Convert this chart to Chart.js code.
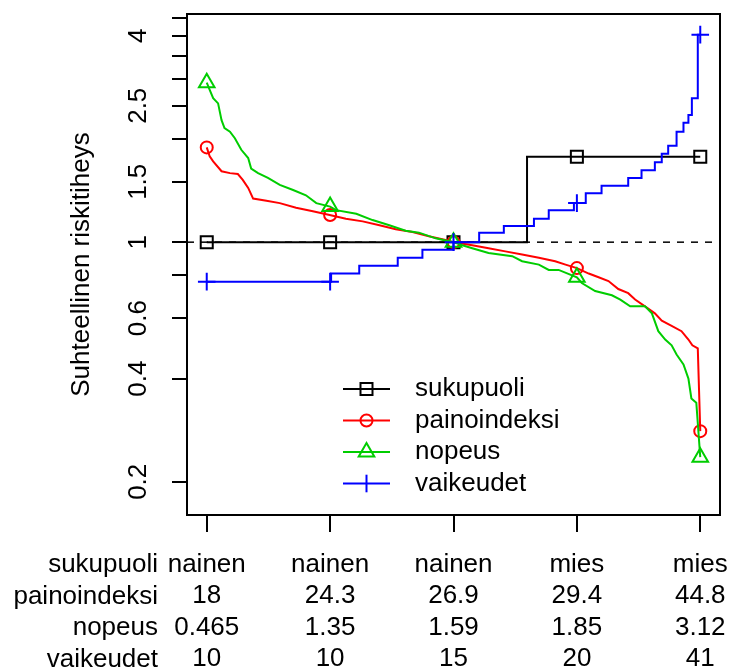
<!DOCTYPE html>
<html>
<head>
<meta charset="utf-8">
<script src="https://cdn.jsdelivr.net/npm/chart.js@4.4.0/dist/chart.umd.min.js"></script>
<style>
  html, body { margin: 0; padding: 0; background: #fff; }
</style>
</head>
<body>
<canvas id="hazardChart" width="731" height="670"></canvas>
<script>
// quantile positions where markers and table columns sit
const markerX = [0, 0.25, 0.5, 0.75, 1];

const rowNames = ['sukupuoli', 'painoindeksi', 'nopeus', 'vaikeudet'];
const sukupuoliLabels = ['nainen', 'nainen', 'nainen', 'mies', 'mies'];
const painoindeksiLabels = ['18', '24.3', '26.9', '29.4', '44.8'];
const nopeusLabels = ['0.465', '1.35', '1.59', '1.85', '3.12'];
const vaikeudetLabels = ['10', '10', '15', '20', '41'];

const yTicks = [0.2, 0.4, 0.6, 0.8, 1, 1.5, 2, 2.5, 3, 3.5, 4, 4.5];
const yTickLabels = [0.2, 0.4, 0.6, 1, 1.5, 2.5, 4];

// curves
const sukupuoliX = [0, 0.649, 1];
const sukupuoliY = [1, 1.776, 1.776];

const painoindeksiX = [0, 0.006, 0.013, 0.030, 0.047, 0.063, 0.073, 0.084, 0.094, 0.121, 0.148, 0.181, 0.215, 0.249, 0.282, 0.316, 0.350, 0.383, 0.417, 0.450, 0.484, 0.5,
  0.538, 0.571, 0.605, 0.639, 0.673, 0.706, 0.727, 0.750, 0.774, 0.794, 0.814, 0.834, 0.854, 0.868, 0.888, 0.908, 0.922, 0.942, 0.962, 0.976, 0.984, 0.995, 1];
const painoindeksiY = [1.89, 1.78, 1.72, 1.61, 1.59, 1.58, 1.52, 1.44, 1.34, 1.32, 1.30, 1.26, 1.23, 1.20, 1.17, 1.15, 1.12, 1.09, 1.07, 1.04, 1.015, 1.0,
  0.98, 0.96, 0.94, 0.92, 0.90, 0.88, 0.86, 0.84, 0.81, 0.79, 0.77, 0.73, 0.71, 0.68, 0.65, 0.62, 0.59, 0.57, 0.55, 0.52, 0.50, 0.49, 0.281];

const nopeusX = [0, 0.006, 0.013, 0.023, 0.030, 0.036, 0.047, 0.057, 0.070, 0.084, 0.090, 0.104, 0.124, 0.148, 0.175, 0.201, 0.222, 0.25, 0.262, 0.303, 0.336, 0.370, 0.403, 0.430, 0.464, 0.5,
  0.518, 0.538, 0.571, 0.619, 0.639, 0.673, 0.693, 0.713, 0.75, 0.760, 0.787, 0.821, 0.838, 0.858, 0.888, 0.902, 0.915, 0.929, 0.942, 0.952, 0.966, 0.976, 0.982, 0.992, 1];
const nopeusY = [2.92, 2.78, 2.63, 2.54, 2.27, 2.15, 2.10, 2.01, 1.86, 1.76, 1.64, 1.59, 1.54, 1.47, 1.42, 1.37, 1.30, 1.27, 1.24, 1.21, 1.16, 1.12, 1.08, 1.066, 1.026, 1.0,
  0.98, 0.96, 0.93, 0.91, 0.88, 0.86, 0.83, 0.83, 0.79, 0.76, 0.72, 0.70, 0.68, 0.65, 0.65, 0.62, 0.55, 0.52, 0.50, 0.47, 0.44, 0.40, 0.35, 0.34, 0.236];

const vaikeudetX = [0, 0.252, 0.309, 0.387, 0.437, 0.5, 0.552, 0.602, 0.663, 0.693, 0.744, 0.768, 0.800, 0.854, 0.881, 0.908, 0.922, 0.935, 0.952, 0.966, 0.976, 0.983, 0.995, 1];
const vaikeudetY = [0.767, 0.81, 0.854, 0.90, 0.95, 1.0, 1.066, 1.115, 1.17, 1.24, 1.30, 1.39, 1.46, 1.54, 1.62, 1.71, 1.81, 1.91, 2.10, 2.23, 2.35, 2.63, 4.03, 4.03];

// marker values at the quantile positions
const sukupuoliMarks = [1, 1, 1, 1.776, 1.776];
const painoindeksiMarks = [1.89, 1.20, 1, 0.84, 0.281];
const nopeusMarks = [2.92, 1.27, 1, 0.79, 0.236];
const vaikeudetMarks = [0.767, 0.767, 1, 1.30, 4.03];

const refX = [-0.04, 1.04];
const refY = [1, 1];

const colors = ['#000000', '#FF0000', '#00CD00', '#0000FF'];
const styles = ['rect', 'circle', 'triangle', 'cross'];
const radii = [8.5, 6, 9, 8.8];

const fontFamily = '"Liberation Sans", Arial, Helvetica, sans-serif';
Chart.defaults.font.family = fontFamily;
Chart.defaults.font.size = 26;
Chart.defaults.color = '#000';

function zip(xs, ys) {
  return xs.map((x, i) => ({x: x, y: ys[i]}));
}

function lineSet(xs, ys, color, order, stepped) {
  return {data: zip(xs, ys), showLine: true, borderColor: color, borderWidth: 2,
    pointRadius: 0, fill: false, stepped: stepped, order: order};
}

function markSet(ys, i, order) {
  return {data: zip(markerX, ys), showLine: false, pointStyle: styles[i], pointRadius: radii[i],
    pointBorderColor: colors[i], pointBackgroundColor: 'rgba(0,0,0,0)', pointBorderWidth: 2,
    order: order};
}

// box, row names of the table and the legend
const extras = {
  id: 'extras',
  afterDraw(chart) {
    const ctx = chart.ctx;
    const a = chart.chartArea;
    ctx.save();
    ctx.strokeStyle = '#000';
    ctx.lineWidth = 2;
    ctx.strokeRect(a.left, a.top, a.right - a.left, a.bottom - a.top);

    ctx.font = '26px ' + fontFamily;
    ctx.fillStyle = '#000';
    ctx.textAlign = 'right';
    ctx.textBaseline = 'middle';
    rowNames.forEach((name, i) => {
      ctx.fillText(name, 158, a.bottom + 50 + i * 31.5);
    });

    // legend
    ctx.textAlign = 'left';
    rowNames.forEach((name, i) => {
      const y = 389 + i * 31.5;
      ctx.strokeStyle = colors[i];
      ctx.lineWidth = 2;
      ctx.beginPath();
      ctx.moveTo(343, y);
      ctx.lineTo(390, y);
      ctx.stroke();
      const cx = 366.5;
      ctx.beginPath();
      if (i === 0) {
        ctx.rect(cx - 6, y - 6, 12, 12);
      } else if (i === 1) {
        ctx.arc(cx, y, 6, 0, Math.PI * 2);
      } else if (i === 2) {
        const r = 9;
        ctx.moveTo(cx, y - r);
        ctx.lineTo(cx + r * 0.866, y + r / 2);
        ctx.lineTo(cx - r * 0.866, y + r / 2);
        ctx.closePath();
      } else {
        ctx.moveTo(cx, y - 8.8);
        ctx.lineTo(cx, y + 8.8);
      }
      ctx.stroke();
      ctx.fillStyle = '#000';
      ctx.fillText(name, 415, y);
    });
    ctx.restore();
  }
};

new Chart(document.getElementById('hazardChart'), {
  type: 'scatter',
  data: {
    datasets: [
      {data: zip(refX, refY), showLine: true, borderColor: '#000', borderWidth: 1.5, borderDash: [7, 7], pointRadius: 0, order: 10},
      lineSet(sukupuoliX, sukupuoliY, colors[0], 9, true),
      markSet(sukupuoliMarks, 0, 8),
      lineSet(painoindeksiX, painoindeksiY, colors[1], 7, false),
      markSet(painoindeksiMarks, 1, 6),
      lineSet(nopeusX, nopeusY, colors[2], 5, false),
      markSet(nopeusMarks, 2, 4),
      lineSet(vaikeudetX, vaikeudetY, colors[3], 3, true),
      markSet(vaikeudetMarks, 3, 2)
    ]
  },
  options: {
    responsive: false,
    animation: false,
    devicePixelRatio: 1,
    layout: {padding: {top: 14, right: 11, left: 0, bottom: 0}},
    plugins: {legend: {display: false}, tooltip: {enabled: false}},
    scales: {
      x: {
        type: 'linear',
        min: -0.04,
        max: 1.04,
        afterBuildTicks: (scale) => { scale.ticks = markerX.map(v => ({value: v})); },
        afterFit: (scale) => {
          scale.height = 155;
          scale.paddingLeft = 0;
          scale.paddingRight = 0;
        },
        border: {display: false},
        grid: {display: true, drawOnChartArea: false, drawTicks: true, tickLength: 17, color: '#000', lineWidth: 2},
        ticks: {
          autoSkip: false,
          maxRotation: 0,
          padding: 17,
          font: {size: 26, lineHeight: 1.21},
          callback: (value, index) => [sukupuoliLabels[index], painoindeksiLabels[index], nopeusLabels[index], vaikeudetLabels[index]]
        }
      },
      y: {
        type: 'logarithmic',
        min: 0.16,
        max: 4.63,
        afterBuildTicks: (scale) => { scale.ticks = yTicks.map(v => ({value: v})); },
        afterFit: (scale) => {
          scale.width = 187;
          scale.paddingTop = 0;
          scale.paddingBottom = 0;
        },
        border: {display: false},
        grid: {display: true, drawOnChartArea: false, drawTicks: true, tickLength: 15, color: '#000', lineWidth: 2},
        title: {display: true, text: 'Suhteellinen riskitiheys', font: {size: 26}, padding: {top: 66, bottom: 0}},
        ticks: {
          autoSkip: false,
          minRotation: 90,
          maxRotation: 90,
          crossAlign: 'center',
          padding: 15,
          callback: (value) => yTickLabels.includes(value) ? String(value) : ''
        }
      }
    }
  },
  plugins: [extras]
});
</script>
</body>
</html>
